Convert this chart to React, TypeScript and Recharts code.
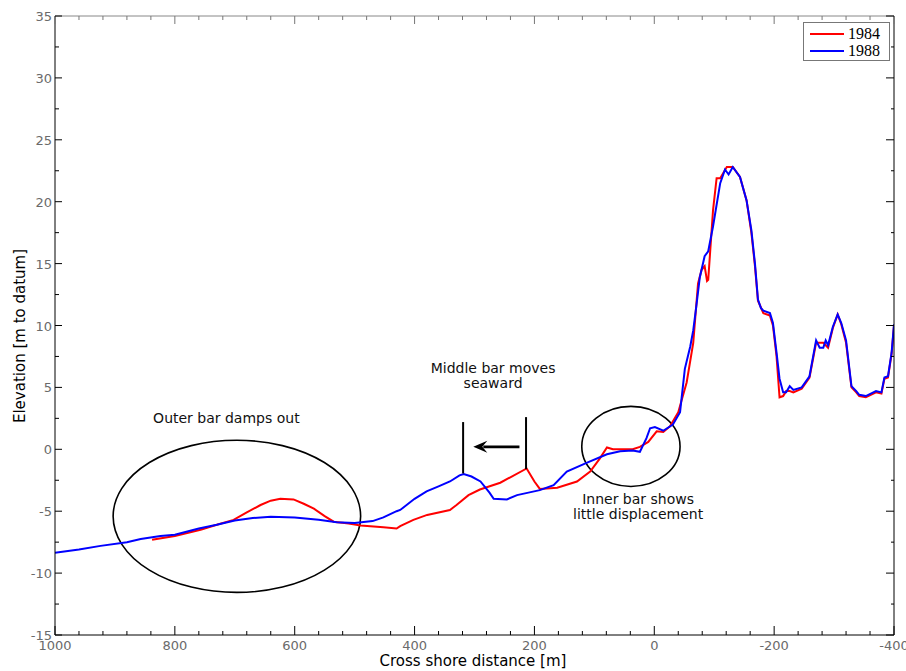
import React from "react";
import {
  LineChart, Line, XAxis, YAxis, Legend,
  ReferenceArea, ReferenceLine, ReferenceDot,
} from "recharts";

// 1984 survey (red)
const dist1984 = [
  838, 800, 757, 730, 702, 680, 657, 640, 624, 602, 585, 568, 550, 535, 510, 490,
  452, 430, 424, 402, 379, 341, 330, 310, 291, 257, 213, 200, 191, 162, 129, 107,
  91, 79, 69, 50, 36, 24, 10, -4, -15, -26, -40, -54, -65, -73, -79, -84, -88, -90,
  -98, -104, -110, -121, -131, -143, -154, -162, -168, -173, -182, -193, -198, -204,
  -209, -215, -220, -226, -232, -246, -259, -270, -276, -282, -290, -298, -306, -312,
  -320, -329, -337, -342, -353, -370, -379, -384, -390, -396, -400,
];
const elev1984 = [
  -7.3, -7.0, -6.5, -6.1, -5.7, -5.1, -4.5, -4.15, -4.0, -4.05, -4.4, -4.8, -5.4, -5.85, -6.0, -6.15,
  -6.3, -6.4, -6.2, -5.7, -5.3, -4.9, -4.5, -3.7, -3.25, -2.7, -1.55, -2.6, -3.2, -3.1, -2.6, -1.8,
  -0.75, 0.15, 0.0, 0.0, 0.0, 0.2, 0.6, 1.45, 1.4, 1.85, 3.0, 5.4, 8.6, 13.4, 14.5, 14.8, 13.6, 13.7,
  19.3, 21.9, 21.9, 22.8, 22.8, 22.0, 20.1, 17.5, 14.8, 12.0, 11.0, 10.8, 10.0, 7.5,
  4.2, 4.3, 4.7, 4.7, 4.6, 4.9, 5.8, 8.6, 8.6, 8.6, 8.2, 9.8, 10.9, 10.1,
  8.6, 5.0, 4.6, 4.3, 4.2, 4.6, 4.5, 5.7, 5.8, 7.7, 10.0,
];

// 1988 survey (blue)
const dist1988 = [
  1000, 960, 924, 880, 857, 824, 800, 760, 730, 700, 670, 640, 600, 560, 530, 500,
  470, 452, 430, 424, 400, 380, 360, 341, 325, 318, 305, 290, 275, 268, 246, 229,
  210, 191, 168, 146, 113, 79, 57, 36, 24, 13, 7, -1, -15, -31, -43, -51, -60, -65,
  -70, -76, -84, -90, -98, -110, -118, -124, -131, -143, -154, -162, -168, -173, -178,
  -182, -193, -198, -204, -209, -215, -220, -226, -232, -246, -259, -270, -276, -282,
  -286, -290, -298, -306, -312, -320, -329, -337, -342, -353, -370, -379, -384, -390,
  -396, -400,
];
const elev1988 = [
  -8.35, -8.1, -7.8, -7.5, -7.25, -7.0, -6.9, -6.4, -6.1, -5.75, -5.55, -5.45, -5.5, -5.7, -5.9, -5.95,
  -5.8, -5.5, -5.0, -4.9, -4.0, -3.4, -3.0, -2.6, -2.1, -2.0, -2.2, -2.6, -3.5, -4.0, -4.05, -3.7,
  -3.5, -3.3, -2.9, -1.8, -1.1, -0.4, -0.15, -0.1, -0.2, 0.9, 1.7, 1.8, 1.5, 2.0, 3.0, 6.5, 8.3, 9.6,
  11.5, 13.9, 15.6, 16.0, 18.0, 21.5, 22.6, 22.2, 22.8, 22.0, 20.1, 17.7, 15.0, 12.1, 11.4,
  11.2, 11.0, 10.2, 7.8, 5.7, 4.6, 4.6, 5.1, 4.8, 5.0, 5.9, 8.8, 8.2, 8.2,
  8.8, 8.4, 9.9, 10.9, 10.2, 8.8, 5.1, 4.7, 4.4, 4.3, 4.7, 4.6, 5.8, 5.9,
  7.8, 10.1,
];

const xTicks = [
  1000, 960, 920, 880, 840, 800, 760, 720, 680, 640, 600, 560, 520, 480, 440, 400,
  360, 320, 280, 240, 200, 160, 120, 80, 40, 0, -40, -80, -120, -160, -200, -240,
  -280, -320, -360, -400,
];
const yTicks = [
  -15, -12.5, -10, -7.5, -5, -2.5, 0, 2.5, 5, 7.5, 10, 12.5, 15, 17.5, 20, 22.5,
  25, 27.5, 30, 32.5, 35,
];

const series1984 = dist1984.map((d, i) => ({ d, e: elev1984[i] }));
const series1988 = dist1988.map((d, i) => ({ d, e: elev1988[i] }));

const FONT = "DejaVu Sans, Verdana, sans-serif";
const TICK_GREY = "#6a6a6a";

const BottomTick = (p: any) => {
  const v = p.payload.value;
  const major = v % 200 === 0;
  return (
    <g>
      <line x1={p.x} x2={p.x} y1={p.y} y2={p.y - (major ? 9 : 4)} stroke="#000" />
      {major && (
        <text x={p.x} y={p.y + 15} textAnchor="middle" fontSize={13} fill={TICK_GREY} fontFamily={FONT}>
          {v}
        </text>
      )}
    </g>
  );
};

const TopTick = (p: any) => {
  const major = p.payload.value % 200 === 0;
  return <line x1={p.x} x2={p.x} y1={p.y} y2={p.y + (major ? 8 : 4)} stroke="#777" />;
};

const LeftTick = (p: any) => {
  const v = p.payload.value;
  const major = v % 5 === 0;
  return (
    <g>
      <line x1={p.x} x2={p.x + (major ? 7 : 4)} y1={p.y} y2={p.y} stroke="#000" />
      {major && (
        <text x={p.x - 3} y={p.y + 5} textAnchor="end" fontSize={13} fill={TICK_GREY} fontFamily={FONT}>
          {v}
        </text>
      )}
    </g>
  );
};

const RightTick = (p: any) => {
  const major = p.payload.value % 5 === 0;
  return <line x1={p.x} x2={p.x - (major ? 8 : 3)} y1={p.y} y2={p.y} stroke="#000" />;
};

const ellipseShape = (p: any) => {
  const x = Math.min(p.x, p.x + p.width);
  const y = Math.min(p.y, p.y + p.height);
  const w = Math.abs(p.width);
  const h = Math.abs(p.height);
  return <ellipse cx={x + w / 2} cy={y + h / 2} rx={w / 2} ry={h / 2} fill="none" stroke="#000" strokeWidth={1.6} />;
};

const arrowShape = (p: any) => {
  const { x1, y1, x2, y2 } = p;
  const dir = Math.sign(x2 - x1) || 1;
  return (
    <g>
      <line x1={x1} y1={y1} x2={x2 - dir * 10} y2={y2} stroke="#000" strokeWidth={2.8} />
      <polygon points={`${x2},${y2} ${x2 - dir * 14},${y2 - 6} ${x2 - dir * 9},${y2} ${x2 - dir * 14},${y2 + 6}`} fill="#000" />
    </g>
  );
};

const note = (text: string) => (p: any) => (
  <text x={p.cx} y={p.cy} textAnchor="middle" fontSize={14} fill="#111" fontFamily={FONT}>
    {text}
  </text>
);

const LegendBox = () => (
  <div style={{
    width: 87, height: 39, boxSizing: "border-box", border: "1px solid #777", background: "#fff",
    fontFamily: "Liberation Serif, serif", fontSize: 16, color: "#000", padding: "2px 0 0 6px",
  }}>
    {[["1984", "#ff0000"], ["1988", "#0000ff"]].map(([name, c]) => (
      <div key={name} style={{ display: "flex", alignItems: "center", height: 17 }}>
        <span style={{ display: "inline-block", width: 34, height: 2, background: c, marginRight: 4 }} />
        <span>{name}</span>
      </div>
    ))}
  </div>
);

export default function App() {
  return (
    <div style={{ position: "absolute", left: 0, top: 0, background: "#fff" }}>
      <LineChart width={906} height={671} margin={{ top: 15, right: 11, bottom: 0, left: 0 }}>
        <XAxis
          dataKey="d" type="number" domain={[-400, 1000]} reversed ticks={xTicks} interval={0}
          height={36} tickSize={0} tickMargin={0} tickLine={false} tick={BottomTick}
          axisLine={{ stroke: "#000" }} allowDataOverflow
          label={{
            content: () => (
              <text x={473} y={666} textAnchor="middle" fontSize={15} fill="#000" fontFamily={FONT}>
                Cross shore distance [m]
              </text>
            ),
          }}
        />
        <XAxis
          xAxisId="top" orientation="top" dataKey="d" type="number" domain={[-400, 1000]} reversed ticks={xTicks}
          interval={0} height={1} tickSize={0} tickMargin={0} tickLine={false} tick={TopTick}
          axisLine={{ stroke: "#888" }} allowDataOverflow
        />
        <YAxis
          type="number" domain={[-15, 35]} ticks={yTicks} interval={0} width={55}
          tickSize={0} tickMargin={0} tickLine={false} tick={LeftTick}
          axisLine={{ stroke: "#000" }} allowDataOverflow
          label={{
            content: () => (
              <text x={25} y={336} transform="rotate(-90 25 336)" textAnchor="middle" fontSize={15} fill="#000" fontFamily={FONT}>
                Elevation [m to datum]
              </text>
            ),
          }}
        />
        <YAxis
          yAxisId="right" orientation="right" type="number" domain={[-15, 35]} ticks={yTicks}
          interval={0} width={1} tickSize={0} tickMargin={0} tickLine={false} tick={RightTick}
          axisLine={{ stroke: "#000" }} allowDataOverflow
        />

        <Line data={series1984} dataKey="e" name="1984" stroke="#ff0000" strokeWidth={2} dot={false} isAnimationActive={false} />
        <Line data={series1988} dataKey="e" name="1988" stroke="#0000ff" strokeWidth={2} dot={false} isAnimationActive={false} />
        {/* invisible copy bound to the frame axes so the top/right borders get drawn */}
        <Line
          data={series1988} dataKey="e" xAxisId="top" yAxisId="right" stroke="none" dot={false}
          legendType="none" activeDot={false} isAnimationActive={false}
        />

        <ReferenceArea x1={903} x2={490} y1={0.73} y2={-11.56} shape={ellipseShape} />
        <ReferenceArea x1={121} x2={-43} y1={3.47} y2={-3.0} shape={ellipseShape} />

        <ReferenceLine segment={[{ x: 319, y: 2.2 }, { x: 319, y: -1.95 }]} stroke="#000" strokeWidth={2} />
        <ReferenceLine segment={[{ x: 214, y: 2.6 }, { x: 214, y: -1.6 }]} stroke="#000" strokeWidth={2} />
        <ReferenceLine segment={[{ x: 225, y: 0.2 }, { x: 302, y: 0.2 }]} shape={arrowShape} />

        <ReferenceDot x={714} y={2.15} r={0} shape={note("Outer bar damps out")} />
        <ReferenceDot x={269} y={6.15} r={0} shape={note("Middle bar moves")} />
        <ReferenceDot x={269} y={4.95} r={0} shape={note("seaward")} />
        <ReferenceDot x={27} y={-4.45} r={0} shape={note("Inner bar shows")} />
        <ReferenceDot x={27} y={-5.67} r={0} shape={note("little displacement")} />

        <Legend
          layout="vertical" verticalAlign="middle" align="center"
          content={() => <LegendBox />}
          wrapperStyle={{ position: "absolute", left: 803, top: 22, width: 87, height: 39 }}
        />
      </LineChart>
    </div>
  );
}
